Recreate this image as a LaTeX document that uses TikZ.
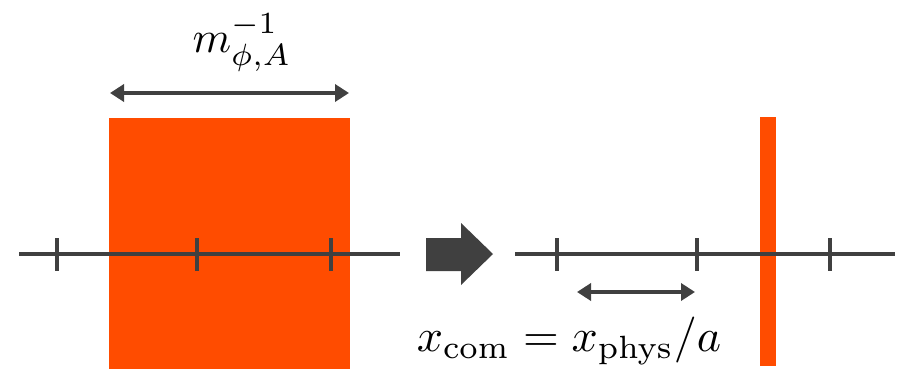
\documentclass[tikz,border=0pt]{standalone}
\usetikzlibrary{arrows.meta}
\definecolor{lineg}{RGB}{64,64,64}
\definecolor{slab}{RGB}{255,76,0}
\tikzset{
  axis/.style={draw=lineg, line width=3.8pt},
  tick/.style={draw=lineg, line width=3.2pt},
  span/.style={draw=lineg, line width=3.6pt, {Triangle[length=14pt,width=17pt]}-{Triangle[length=14pt,width=17pt]}},
  block/.style={fill=slab, draw=none},
  lab/.style={text=black, inner sep=0pt},
}
\begin{document}
\begin{tikzpicture}[x=1pt,y=-1pt]
\useasboundingbox (0,0) rectangle (902,369);

% left panel: wide slab behind a comoving axis
\fill[block] (109,118) rectangle (350,369);
\coordinate (la) at (19,254);
\coordinate (lb) at (400,254);
\draw[axis] (la) -- (lb);
\foreach \x in {57,197,331} \draw[tick] (\x,238) -- (\x,271);

% width of the slab
\coordinate (wa) at (110,93);
\coordinate (wb) at (349,93);
\draw[span] (wa) -- (wb);
\node[lab, scale=4.4] (mlab) at (242,43) {$m_{\phi,A}^{-1}$};

% transition arrow
\fill[lineg] (426,238) -- (461,238) -- (461,223) -- (493,254) -- (461,285) -- (461,271) -- (426,271) -- cycle;

% right panel: thin slab on the same axis
\fill[block] (760,117) rectangle (776,366);
\coordinate (ra) at (515,254);
\coordinate (rb) at (895,254);
\draw[axis] (ra) -- (rb);
\foreach \x in {557,697,830} \draw[tick] (\x,238) -- (\x,271);

% comoving spacing
\coordinate (sa) at (577,292);
\coordinate (sb) at (695,292);
\draw[span] (sa) -- (sb);
\node[lab, scale=4.6] (xlab) at (569,341) {$x_{\mathrm{com}} = x_{\mathrm{phys}}/a$};
\end{tikzpicture}
\end{document}
